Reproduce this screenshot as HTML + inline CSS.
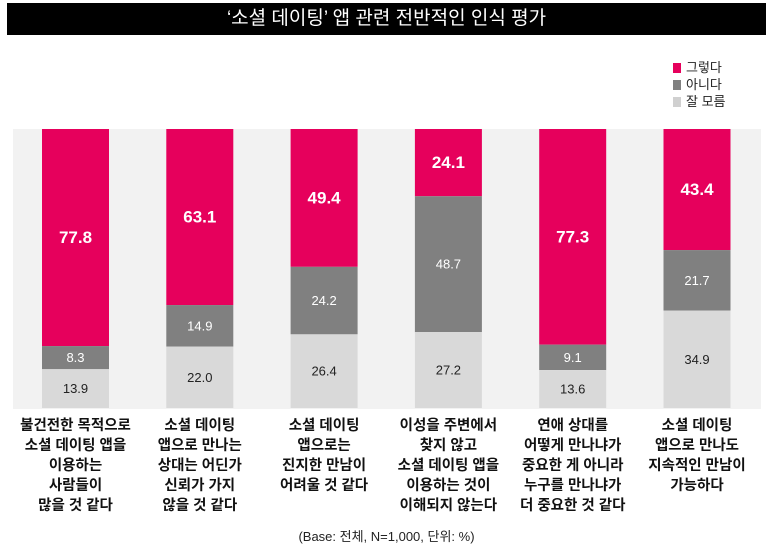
<!DOCTYPE html>
<html><head><meta charset="utf-8"><style>
body{margin:0;background:#fff;width:773px;height:556px;overflow:hidden;font-family:"Liberation Sans","Noto Sans CJK KR",sans-serif}
#title{position:absolute;left:7px;top:3px;width:759px;height:32px;background:#000;color:#fff;font-size:19px;text-align:center;line-height:32px}
.leg{position:absolute;left:673px;font-size:13px;color:#222;line-height:14px}
.leg span{display:inline-block;width:8px;height:10px;margin-right:5px;vertical-align:-1px}
.cat{position:absolute;top:416px;width:130px;text-align:center;font-size:14.5px;font-weight:bold;line-height:20px;color:#111}
#foot{position:absolute;top:526px;left:0;width:773px;text-align:center;font-size:13px;color:#222}
</style></head><body>
<div id="title">‘소셜 데이팅’ 앱 관련 전반적인 인식 평가</div>
<div class="leg" style="top:61px"><span style="background:#e6005c"></span>그렇다</div>
<div class="leg" style="top:78px"><span style="background:#808080"></span>아니다</div>
<div class="leg" style="top:95px"><span style="background:#d0d0d0"></span>잘 모름</div>
<svg id="chart" width="773" height="556" style="position:absolute;left:0;top:0">
<rect x="13" y="129" width="748" height="280" fill="#f2f2f2"></rect>
</svg>
<div id="cats"></div>
<div id="foot">(Base: 전체, N=1,000, 단위: %)</div>
<script>
const categories=["불건전한 목적으로<br>소셜 데이팅 앱을<br>이용하는<br>사람들이<br>많을 것 같다","소셜 데이팅<br>앱으로 만나는<br>상대는 어딘가<br>신뢰가 가지<br>않을 것 같다","소셜 데이팅<br>앱으로는<br>진지한 만남이<br>어려울 것 같다","이성을 주변에서<br>찾지 않고<br>소셜 데이팅 앱을<br>이용하는 것이<br>이해되지 않는다","연애 상대를<br>어떻게 만나냐가<br>중요한 게 아니라<br>누구를 만나냐가<br>더 중요한 것 같다","소셜 데이팅<br>앱으로 만나도<br>지속적인 만남이<br>가능하다"];
const yesVals=[77.8,63.1,49.4,24.1,77.3,43.4];
const noVals=[8.3,14.9,24.2,48.7,9.1,21.7];
const dkVals=[13.9,22.0,26.4,27.2,13.6,34.9];
const svg=document.getElementById('chart');
const top0=129,bot=408,x0=75.5,step=124.3,bw=67;
const y=v=>(bot-top0)*v/100;
const cx=i=>x0+i*step;
function rect(x,yy,h,fill,name){const r=document.createElementNS('http://www.w3.org/2000/svg','rect');r.setAttribute('x',x);r.setAttribute('y',yy);r.setAttribute('width',bw);r.setAttribute('height',h);r.setAttribute('fill',fill);


svg.appendChild(r);}
function txt(x,yy,s,fill,size,bold,name){const t=document.createElementNS('http://www.w3.org/2000/svg','text');t.setAttribute('x',x);t.setAttribute('y',yy);t.setAttribute('fill',fill);t.setAttribute('font-size',size);t.setAttribute('text-anchor','middle');t.setAttribute('dominant-baseline','central');if(bold)t.setAttribute('font-weight','bold');t.textContent=s;


svg.appendChild(t);}
const cd=document.getElementById('cats');
categories.forEach((c,i)=>{
 const tot=yesVals[i]+noVals[i]+dkVals[i];
 const hy=y(yesVals[i]/tot*100),hn=y(noVals[i]/tot*100),hd=y(dkVals[i]/tot*100);
 const x=cx(i)-bw/2;
 rect(x,top0,hy,'#e6005c','bar-yes-'+i);
 rect(x,top0+hy,hn,'#808080','bar-no-'+i);
 rect(x,top0+hy+hn,hd,'#d9d9d9','bar-unknown-'+i);
 txt(cx(i),top0+hy/2,yesVals[i].toFixed(1),'#fff',17,true,'value-yes-'+i);
 txt(cx(i),top0+hy+hn/2,noVals[i].toFixed(1),'#fff',13,false,'value-no-'+i);
 txt(cx(i),top0+hy+hn+hd/2,dkVals[i].toFixed(1),'#222',13,false,'value-unknown-'+i);
 const d=document.createElement('div');d.className='cat';d.style.left=(cx(i)-65)+'px';d.innerHTML=c;
 
 
 cd.appendChild(d);
});
</script>
</body></html>
